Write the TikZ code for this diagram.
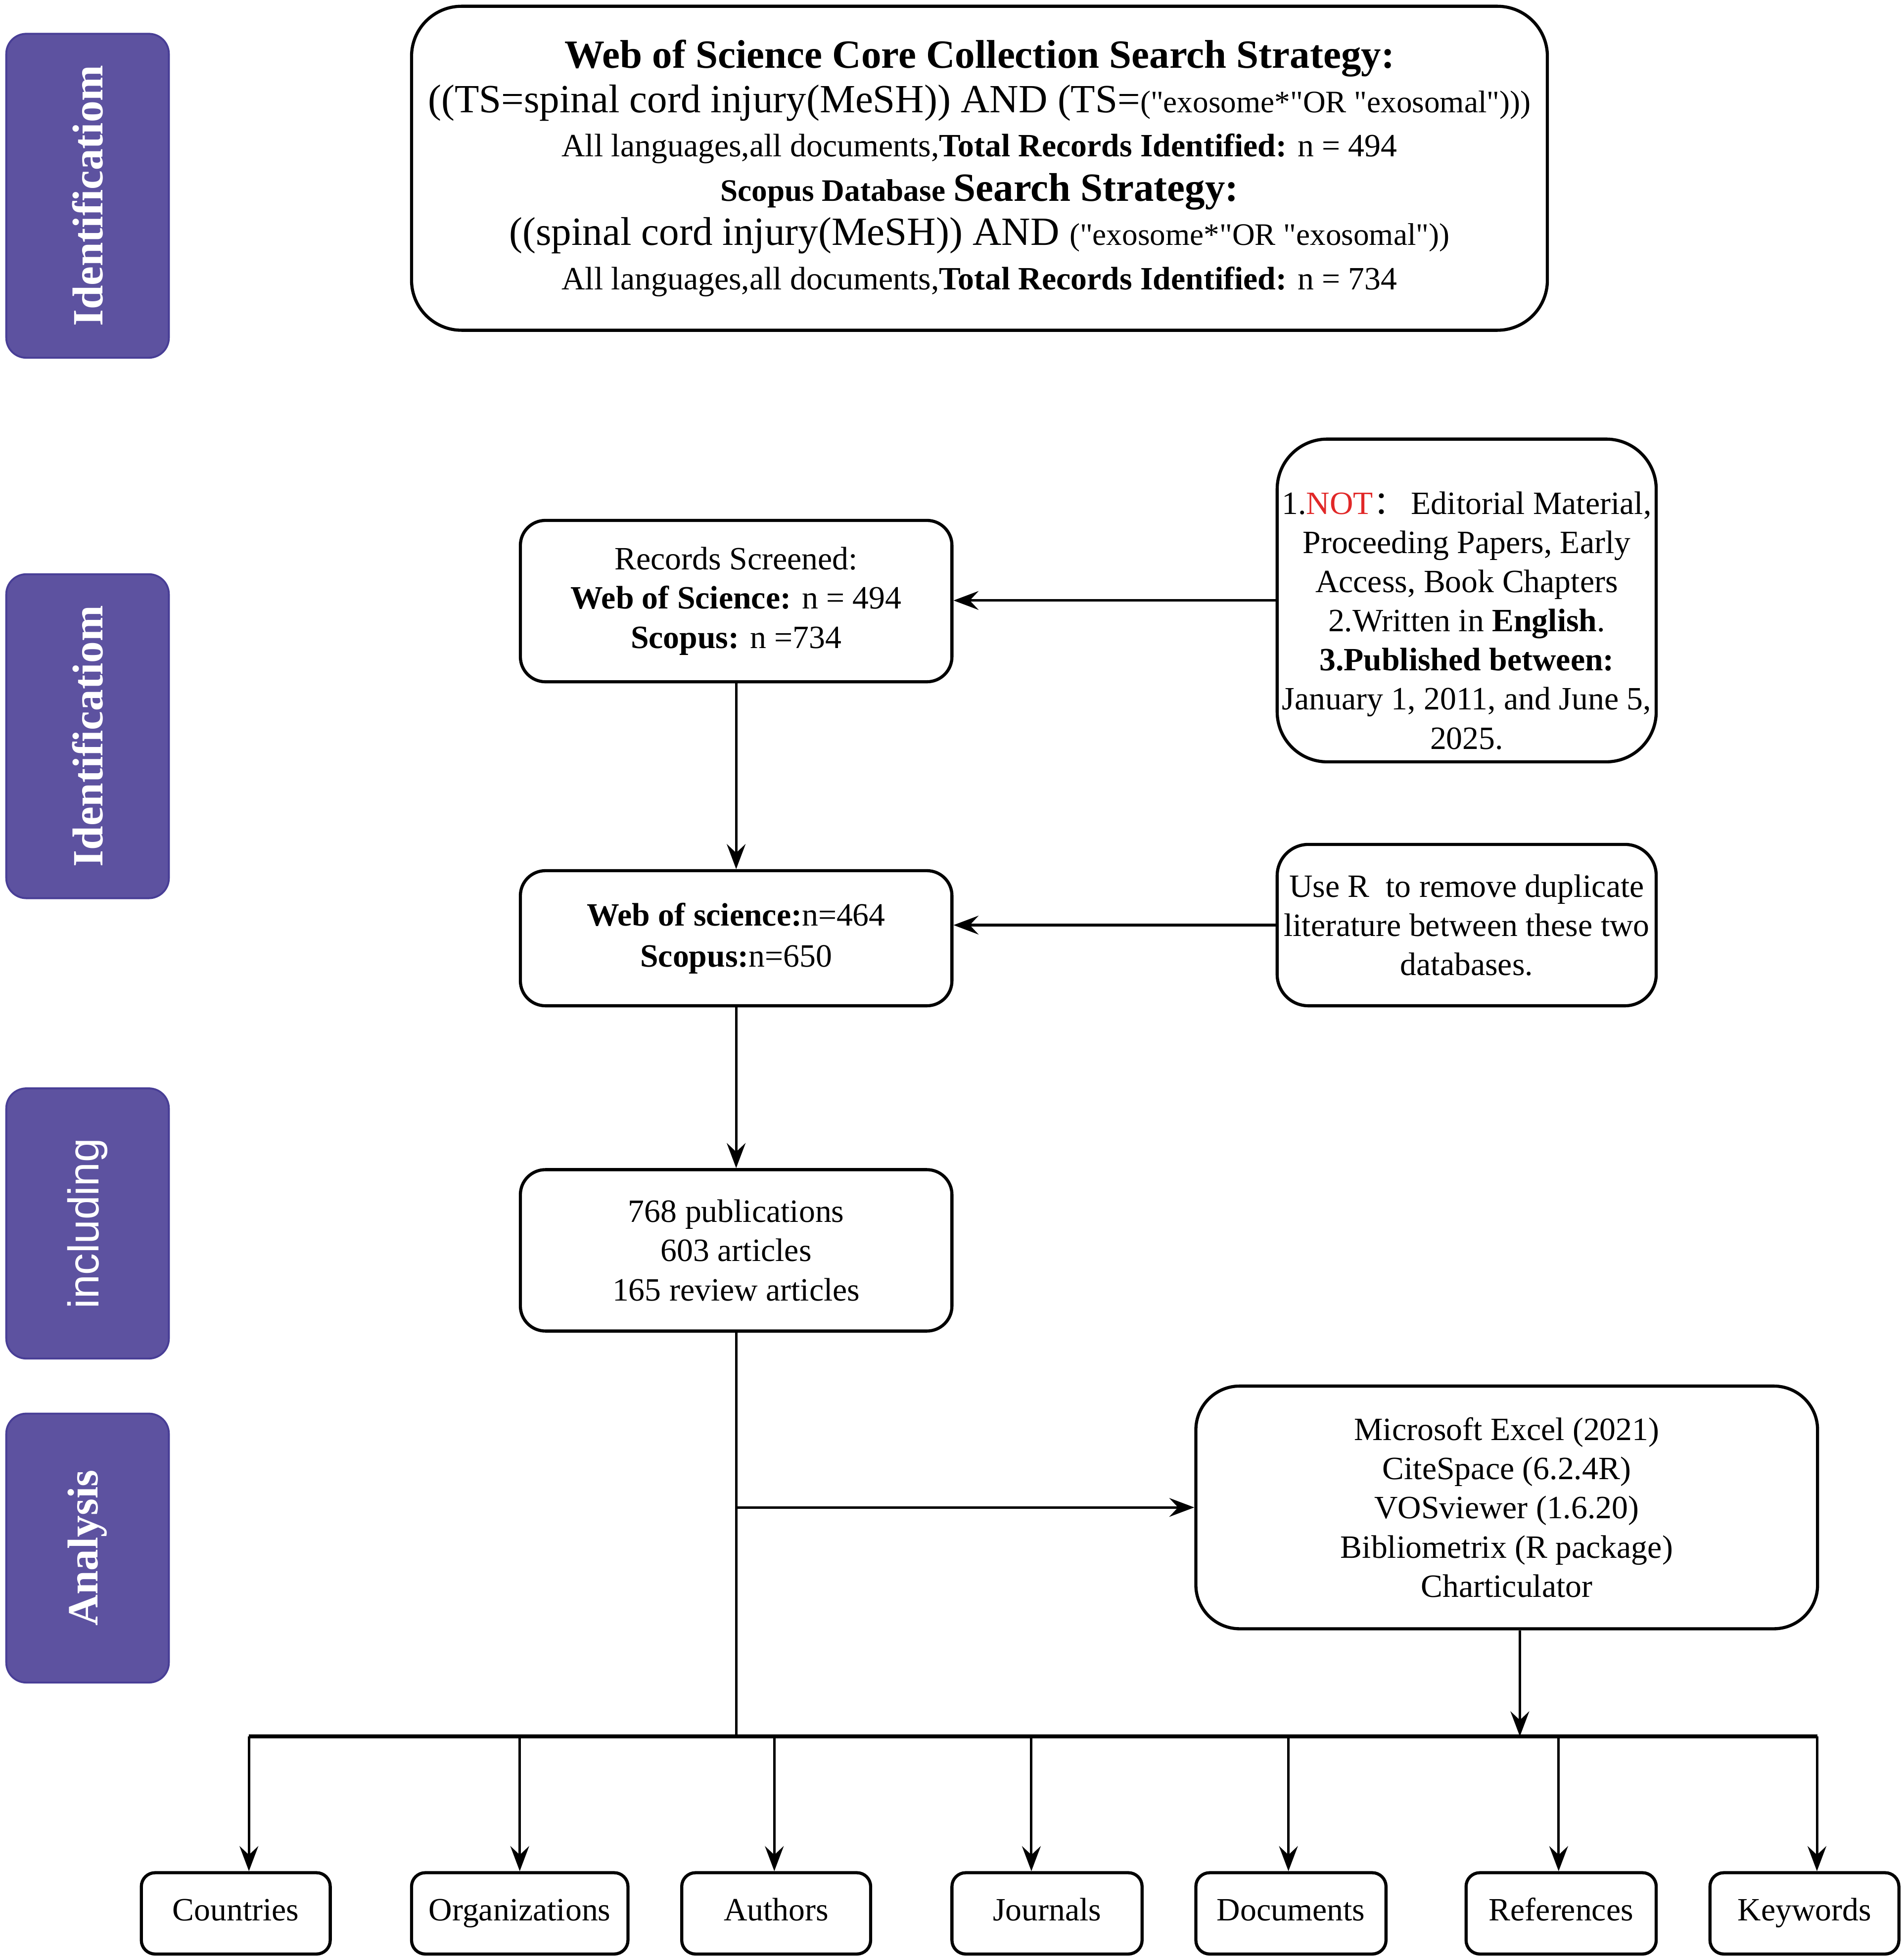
\documentclass[tikz,border=0pt]{standalone}
\usepackage{fontspec}
\setmainfont{Liberation Serif}
\newfontfamily\cjk{Noto Sans CJK SC}
\newfontfamily\sidesans{Liberation Sans}
\usetikzlibrary{arrows.meta,calc}
\definecolor{stagefill}{RGB}{93,82,160}
\definecolor{stageline}{RGB}{72,62,150}
\definecolor{notred}{RGB}{225,40,40}
\newcommand{\qq}{\textquotedbl}

\begin{document}
\begin{tikzpicture}[x=1pt,y=-1pt,
    box/.style={draw, line width=2.5pt, align=center, inner sep=0pt,
        font=\fontsize{26}{31.3}\selectfont},
    stage/.style={fill=stagefill, draw=stageline, line width=1.5pt, rounded corners=16pt,
        minimum height=130pt, inner sep=0pt, text=white, rotate=90},
    arr/.style={line width=2pt, -{Stealth[length=20pt,width=15pt,inset=7pt]}},
    leaf/.style={box, minimum height=65pt, rounded corners=11pt, text height=18pt, text depth=6pt}]
    \useasboundingbox (0,0) rectangle (1522,1566);

    % stage labels
    \node[stage, minimum width=259pt, font=\fontsize{34.5}{34.5}\bfseries] (st1) at (70,156.5) {Identificatiom};
    \node[stage, minimum width=259pt, font=\fontsize{34.5}{34.5}\bfseries] (st2) at (70,588.5) {Identificatiom};
    \node[stage, minimum width=216pt, font=\fontsize{34.5}{34.5}\sidesans] (st3) at (70,978) {including};
    \node[stage, minimum width=215pt, font=\fontsize{34.5}{34.5}\bfseries] (st4) at (70,1237.5) {Analysis};

    \node[box, minimum width=908pt, minimum height=259pt, rounded corners=40pt,
        font=\fontsize{26}{35.4}\selectfont] (search) at (783,134.5) {%
        {\fontsize{32}{35.4}\selectfont\bfseries Web of Science Core Collection Search Strategy:}\\
        {\fontsize{32}{35.4}\selectfont ((TS=spinal cord injury(MeSH)) AND (TS=}{\fontsize{25}{35.4}\selectfont(\qq exosome*\qq OR \qq exosomal\qq)))}\\
        All languages,all documents,\textbf{Total Records Identified:} n = 494\\
        \textbf{{\fontsize{25}{35.4}\selectfont Scopus Database} {\fontsize{32}{35.4}\selectfont Search Strategy:}}\\
        {\fontsize{32}{35.4}\selectfont ((spinal cord injury(MeSH)) AND }{\fontsize{25}{35.4}\selectfont (\qq exosome*\qq OR \qq exosomal\qq))}\\
        All languages,all documents,\textbf{Total Records Identified:} n = 734};

    \node[box, minimum width=345pt, minimum height=129pt, rounded corners=20pt] (records) at (588.5,480.5)
        {Records Screened:\\ \textbf{Web of Science:} n = 494\\ \textbf{Scopus:} n =734};
    \node[box, minimum width=303pt, minimum height=258pt, rounded corners=40pt] (criteria) at (1172.5,480)
        {\rule{0pt}{50pt}1.{\color{notred}NOT}{\cjk ：}\,Editorial Material,\\ Proceeding Papers, Early\\ Access, Book Chapters\\
         2.Written in \textbf{English}.\\ \textbf{3.Published between:}\\ January 1, 2011, and June 5,\\ 2025.};

    \node[box, minimum width=345pt, minimum height=108pt, rounded corners=20pt,
        font=\fontsize{26}{33}\selectfont] (wos) at (588.5,750)
        {\textbf{Web of science:}n=464\\ \textbf{Scopus:}n=650};
    \node[box, minimum width=303pt, minimum height=129pt, rounded corners=25pt] (dedup) at (1172.5,739.5)
        {Use R\ \ to remove duplicate\\ literature between these two\\ databases.};

    \node[box, minimum width=345pt, minimum height=129pt, rounded corners=20pt] (pubs) at (588.5,999.5)
        {768 publications\\ 603 articles\\ 165 review articles};
    \node[box, minimum width=497pt, minimum height=194pt, rounded corners=35pt] (tools) at (1204.5,1205)
        {Microsoft Excel (2021)\\ CiteSpace (6.2.4R)\\ VOSviewer (1.6.20)\\ Bibliometrix (R package)\\ Charticulator};

    % bottom row
    \node[leaf, minimum width=151pt] (countries) at (188.5,1529.5) {Countries};
    \node[leaf, minimum width=173pt] (orgs) at (415.5,1529.5) {Organizations};
    \node[leaf, minimum width=151pt] (authors) at (620.5,1529.5) {Authors};
    \node[leaf, minimum width=152pt] (journals) at (837,1529.5) {Journals};
    \node[leaf, minimum width=152pt] (docs) at (1032,1529.5) {Documents};
    \node[leaf, minimum width=152pt] (refs) at (1248,1529.5) {References};
    \node[leaf, minimum width=151pt] (keys) at (1442.5,1529.5) {Keywords};

    \coordinate (busL) at (199,1388);
    \coordinate (busR) at (1453,1388);

    \draw[arr] (criteria.west) -- (criteria.west -| records.east);
    \draw[arr] (dedup.west) -- (dedup.west -| wos.east);
    \draw[arr] (records.south) -- (wos.north);
    \draw[arr] (wos.south) -- (pubs.north);
    \draw[line width=2pt] (pubs.south) -- (pubs.south |- busL);
    \draw[arr] (pubs.south |- tools.west) -- (tools.west);
    \draw[arr] ([xshift=10.5pt]tools.south) -- ([xshift=10.5pt]tools.south |- busL);
    \draw[line width=3.5pt] (busL) -- (busR);
    \foreach \n/\dx in {countries/10.5,orgs/0,authors/-1.5,journals/-12.5,docs/-2,refs/-2,keys/10}
        \draw[arr] ([xshift=\dx pt]\n.north |- busL) -- ([xshift=\dx pt]\n.north);
\end{tikzpicture}
\end{document}
